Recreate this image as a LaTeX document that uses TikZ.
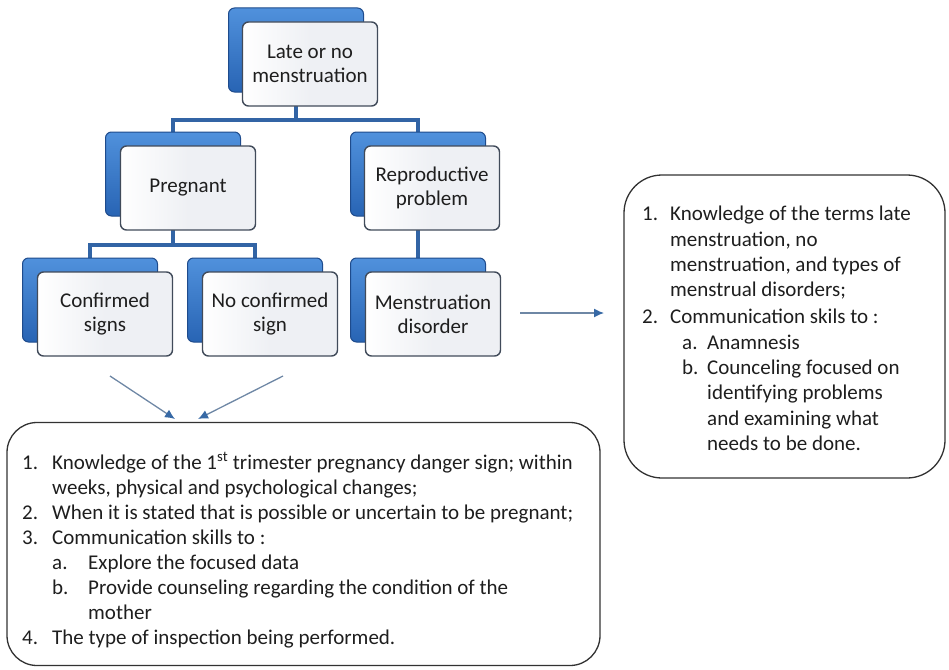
\documentclass[tikz,border=0pt]{standalone}
\usepackage{fontspec}
\setmainfont{Carlito}
\usetikzlibrary{arrows.meta,backgrounds}
\definecolor{bbtop}{RGB}{80,145,220}
\definecolor{bbbot}{RGB}{40,100,180}
\definecolor{bbedge}{RGB}{30,75,140}
\definecolor{fbfill}{RGB}{238,240,244}
\definecolor{fbedge}{RGB}{65,75,90}
\definecolor{linkc}{RGB}{50,100,165}
\definecolor{noteedge}{RGB}{50,50,50}
\definecolor{txt}{RGB}{30,30,30}
\definecolor{arrc}{RGB}{110,135,165}
\definecolor{tipc}{RGB}{55,105,165}
\begin{document}
\begin{tikzpicture}[x=1pt,y=-1pt,
  backbox/.style={rectangle, rounded corners=6pt, minimum width=135pt, minimum height=84pt, draw=bbedge, line width=1pt, top color=bbtop, bottom color=bbbot, inner sep=0pt},
  frontbox/.style={rectangle, rounded corners=6pt, minimum width=135pt, minimum height=84pt, draw=fbedge, line width=1.4pt, left color=white, right color=fbfill, middle color=fbfill, align=center, font=\fontsize{21}{24}\selectfont, text=txt},
  link/.style={draw=linkc, line width=4pt},
  note/.style={draw=noteedge, line width=1.3pt, rounded corners=30pt},
  notetext/.style={align=left, anchor=north west, inner sep=0pt, font=\fontsize{21}{25}\selectfont, text=txt},
  pointer/.style={draw=arrc, line width=1.3pt, -{Latex[length=10pt,width=9pt,color=tipc]}}
]
\useasboundingbox (0,0) rectangle (949,669);

% stacked boxes
\node[backbox] (topB) at (296,50) {};
\node[frontbox] (top) at (310,64) {Late or no\\menstruation};
\node[backbox] (pregB) at (173,174) {};
\node[frontbox] (preg) at (188,188) {Pregnant};
\node[backbox] (repB) at (418,174) {};
\node[frontbox] (rep) at (432,188) {Reproductive\\problem};
\node[backbox] (confB) at (90,300) {};
\node[frontbox] (conf) at (105,314) {Confirmed\\signs};
\node[backbox] (noconfB) at (255,300) {};
\node[frontbox] (noconf) at (270,314) {No confirmed\\sign};
\node[backbox] (menB) at (418,300) {};
\node[frontbox] (men) at (433,314) {Menstruation\\disorder};

\coordinate (j1) at (296,120);
\coordinate (j2) at (173,245);

\begin{scope}[on background layer]
\draw[link] (topB.center) -- (j1);
\draw[link] (pregB.center) |- (j1) -| (repB.center);
\draw[link] (pregB.center) -- (j2);
\draw[link] (confB.center) |- (j2) -| (noconfB.center);
\draw[link] (repB.center) -- (menB.center);
\end{scope}

% note boxes
\node[note, minimum width=593pt, minimum height=243pt] (pnote) at (303.5,544) {};
\node[note, minimum width=321pt, minimum height=303pt, rounded corners=38pt] (mnote) at (784.5,326.5) {};

\node[notetext] (ptext) at (22,452) {%
\makebox[30pt][l]{1.}Knowledge of the 1\textsuperscript{st} trimester pregnancy danger sign; within\\
\hspace*{30pt}weeks, physical and psychological changes;\\
\makebox[30pt][l]{2.}When it is stated that is possible or uncertain to be pregnant;\\
\makebox[30pt][l]{3.}Communication skills to :\\
\hspace*{30pt}\makebox[36pt][l]{a.}Explore the focused data\\
\hspace*{30pt}\makebox[36pt][l]{b.}Provide counseling regarding the condition of the\\
\hspace*{66pt}mother\\
\makebox[30pt][l]{4.}The type of inspection being performed.};

\node[notetext, font=\fontsize{21}{25.3}\selectfont] (mtext) at (642,206) {%
\makebox[28pt][l]{1.}Knowledge of the terms late\\
\hspace*{28pt}menstruation, no\\
\hspace*{28pt}menstruation, and types of\\
\hspace*{28pt}menstrual disorders;\\[2pt]
\makebox[28pt][l]{2.}Communication skils to :\\
\hspace*{40pt}\makebox[25pt][l]{a.}Anamnesis\\
\hspace*{40pt}\makebox[25pt][l]{b.}Counceling focused on\\
\hspace*{65pt}identifying problems\\
\hspace*{65pt}and examining what\\
\hspace*{65pt}needs to be done.};

% arrows
\coordinate (a1s) at (110,376);
\coordinate (a1e) at (175,419);
\coordinate (a2s) at (283,376);
\coordinate (a2e) at (198,419);
\coordinate (a3s) at (520,313);
\coordinate (a3e) at (604,313);
\draw[pointer] (a1s) -- (a1e);
\draw[pointer] (a2s) -- (a2e);
\draw[pointer] (a3s) -- (a3e);
\end{tikzpicture}
\end{document}
